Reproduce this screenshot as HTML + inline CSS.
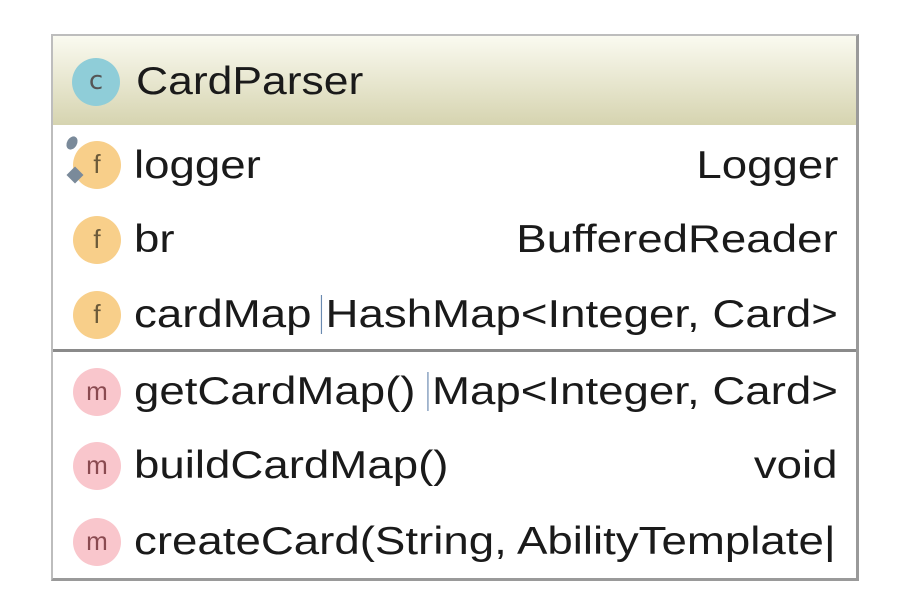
<!DOCTYPE html>
<html><head><style>
body{margin:0;width:900px;height:612px;background:#fff;position:relative;overflow:hidden;font-family:"Liberation Sans",sans-serif;}
.box{position:absolute;left:51px;top:34px;width:803px;height:542px;border:2px solid #bdbdbd;border-right:3px solid #9a9a9a;border-bottom:3px solid #9a9a9a;overflow:hidden;background:#fff}
.hdr{position:absolute;left:0;top:0;width:100%;height:89px;background:linear-gradient(#fafaf0,#d6d4b0);}
.t{position:absolute;font-size:39px;color:#1a1a1a;white-space:nowrap;line-height:1;transform:scaleX(1.17);transform-origin:left center}
.ic{position:absolute;width:48px;height:48px;border-radius:50%;font-size:26px;text-align:center;line-height:46px;color:#6b5a3a}
.f{background:#f8cf8a}
.m{background:#f9c6cc;color:#8a4a50}
.sep{position:absolute;left:0;width:100%;height:3px;background:#8a8a8a;top:313px}
.r{right:18px;transform-origin:right center}
</style></head><body>
<div class="box">
<div class="hdr"></div>
<div class="ic" style="left:19px;top:22px;background:#8fcdd8;color:#555;font-family:'DejaVu Sans',sans-serif">c</div>
<div class="t" style="left:83px;top:26px;transform:scaleX(1.14)">CardParser</div>

<div class="ic f" style="left:20px;top:105px">f</div>
<div style="position:absolute;left:14px;top:100px;width:10px;height:14px;background:#7a8a9a;border-radius:50%;transform:rotate(30deg)"></div>
<div style="position:absolute;left:16px;top:133px;width:12px;height:12px;background:#7a8a9a;transform:rotate(45deg)"></div>
<div class="t" style="left:81px;top:110px">logger</div>
<div class="t r" style="top:110px">Logger</div>

<div class="ic f" style="left:20px;top:180px">f</div>
<div class="t" style="left:81px;top:184px">br</div>
<div class="t r" style="top:184px">BufferedReader</div>

<div class="ic f" style="left:20px;top:255px">f</div>
<div class="t" style="left:81px;top:259px">cardMap</div>
<div class="t r" style="top:259px;background:#fff;padding-left:3px;border-left:1px solid #6a8ab0">HashMap&lt;Integer, Card&gt;</div>

<div class="sep"></div>

<div class="ic m" style="left:20px;top:332px">m</div>
<div class="t" style="left:81px;top:336px">getCardMap()</div>
<div class="t r" style="top:336px;background:#fff;padding-left:3px;border-left:1px solid #6a8ab0">Map&lt;Integer, Card&gt;</div>

<div class="ic m" style="left:20px;top:406px">m</div>
<div class="t" style="left:81px;top:410px">buildCardMap()</div>
<div class="t r" style="top:410px">void</div>

<div class="ic m" style="left:20px;top:482px">m</div>
<div class="t" style="left:81px;top:486px">createCard(String, AbilityTemplate|</div>
</div>
</body></html>
